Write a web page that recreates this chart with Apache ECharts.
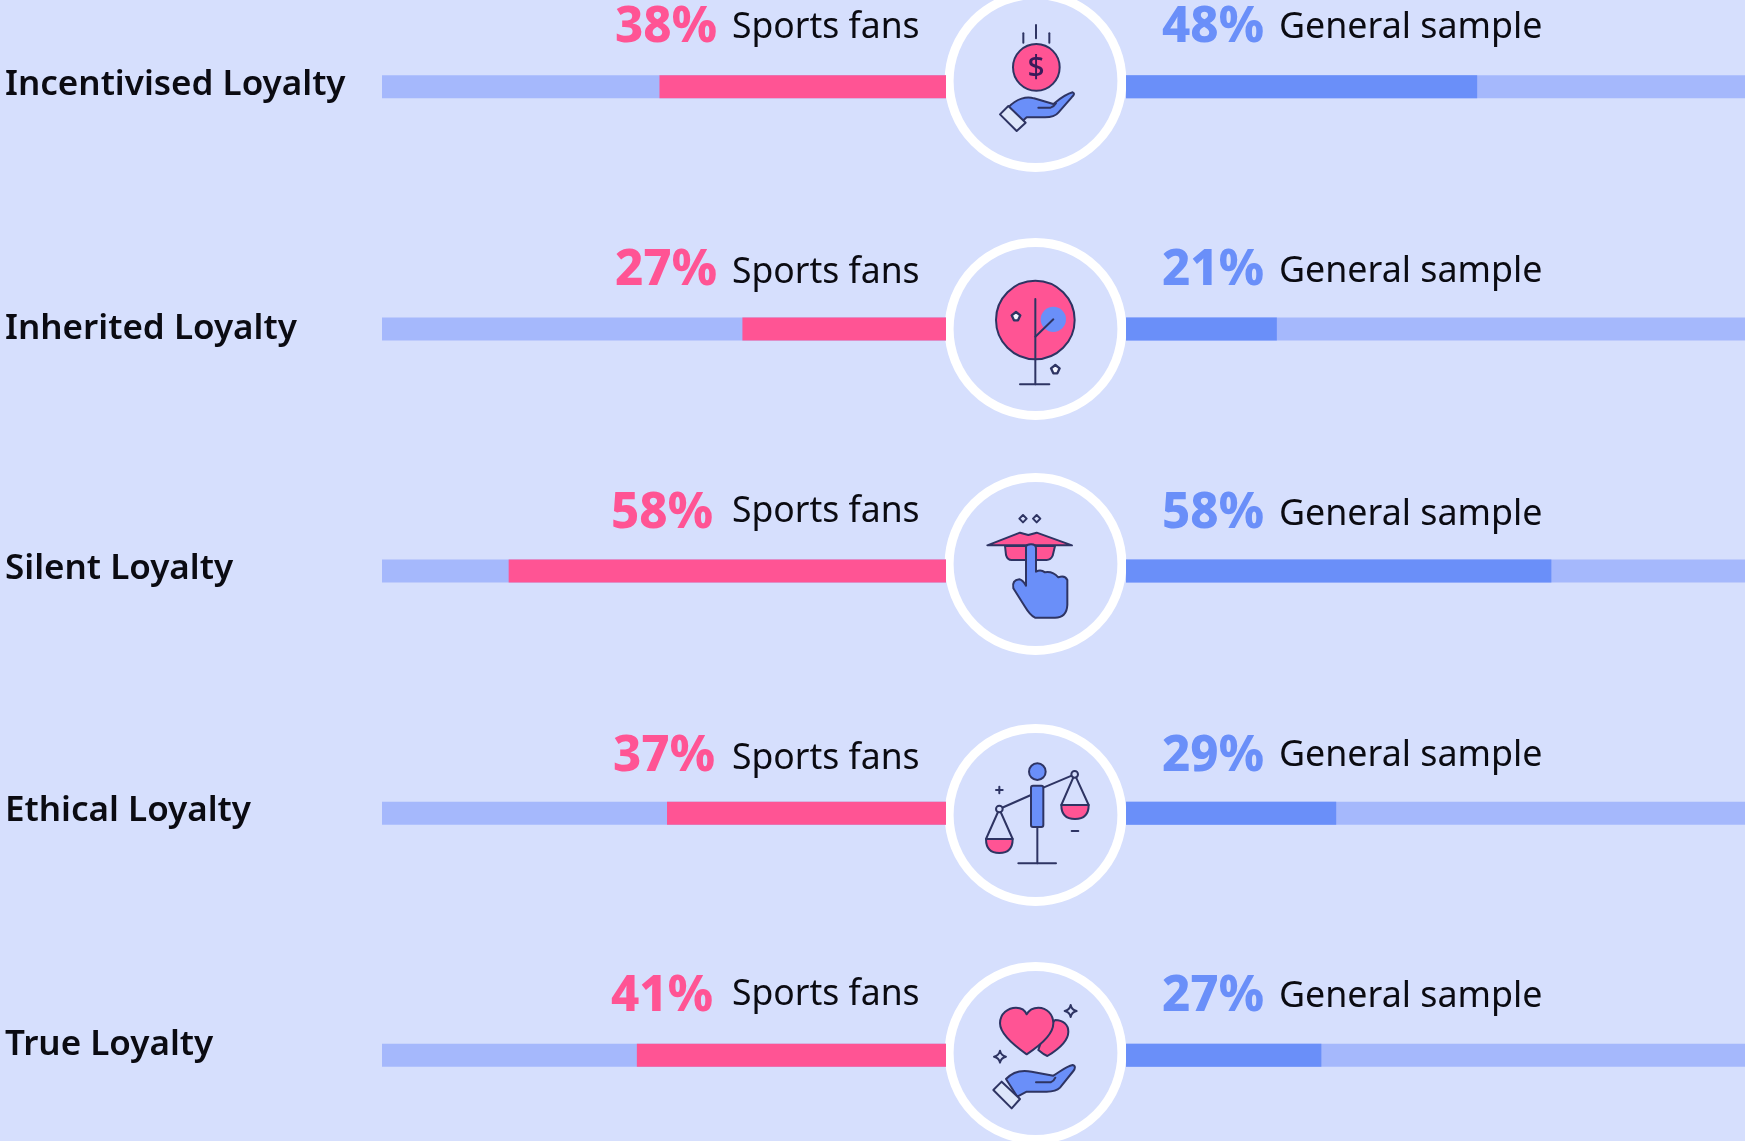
<!DOCTYPE html>
<html><head><meta charset="utf-8">
<style>html,body{margin:0;padding:0;background:#d6dffd}#c{width:1745px;height:1141px}</style>
<script src="https://cdn.jsdelivr.net/npm/echarts@6/dist/echarts.min.js"></script></head>
<body><div id="c"></div>
<script>
const categories = ['Incentivised Loyalty','Inherited Loyalty','Silent Loyalty','Ethical Loyalty','True Loyalty'];
const sportsFans = [38,27,58,37,41];
const generalSample = [48,21,58,29,27];
const leftLegend = 'Sports fans', rightLegend = 'General sample';

// layout (text and icon placement only)
const nameY = [85,329,569,811,1045];
const leftPctX = [615,615,611,613,611];
const leftPctY = [28,271,514,757,997];
const leftLegY = [28,273,512,759,995];
const rightPctY = [28,271,514,757,997];
const rightLegY = [28,272,515,756,997];
const circleY = [81,329,564,815,1053];
const iconOrigin = [0,230,465,715,955];

const BG='#d6dffd', TRACK='#a5b8fc', PINK='#ff5494', BLUE='#6a8ff9', INK='#2e3463', NAVY='#0b0b12', CUFF='#dde6fa';
const FONT='"Noto Sans"';

function txt(x,y,s,size,weight,fill){return {type:'text',x,y,style:{text:s,fontFamily:FONT,fontSize:size,fontWeight:weight,fill,textAlign:'left',textVerticalAlign:'middle'}};}
const st=(fill,lw)=>({fill:fill||'none',stroke:INK,lineWidth:lw||6,lineJoin:'round',lineCap:'round'});
let shapeId=0;
function path(d,fill,lw){const name='iconShape'+(shapeId++);echarts.graphic.registerShape(name,echarts.graphic.extendPath(d));return {type:name,style:st(fill,lw)};}
function circ(cx,cy,r,fill,lw){return {type:'circle',shape:{cx,cy,r},style:st(fill,lw)};}
function line(x1,y1,x2,y2,lw){return {type:'line',shape:{x1,y1,x2,y2},style:st(null,lw)};}
function star(x,y,r){return path(`M${x} ${y-r}Q${x+3} ${y-3} ${x+r} ${y}Q${x+3} ${y+3} ${x} ${y+r}Q${x-3} ${y+3} ${x-r} ${y}Q${x-3} ${y-3} ${x} ${y-r}Z`,BG,6);}
function penta(x,y,r){return path(`M${x} ${y-r}L${x+r} ${y-3}L${x+6} ${y+r-1}L${x-6} ${y+r-1}L${x-r} ${y-3}Z`,'#f4f6ff',7);}
function diamond(x,y,r){return path(`M${x} ${y-r}L${x+r} ${y}L${x} ${y+r}L${x-r} ${y}Z`,BG,6);}

const icons=[
 [line(280,100,280,128),line(318,75,318,115),line(358,100,358,128),circ(319,202,70,PINK),
  {type:'text',x:318,y:204,style:{text:'$',fontFamily:FONT,fontSize:90,fontWeight:500,fill:'#3a1a5a',textAlign:'center',textVerticalAlign:'middle'}},
  path('M235 322C260 295 290 288 312 295L370 312C385 300 405 283 428 277C436 280 430 288 425 292L385 338C375 350 360 352 345 352L290 352L275 365Z',BLUE),
  path('M210 343L235 318L287 368L260 393Z',CUFF),path('M325 323L362 323Q372 320 378 310',null)],
 [circ(316,270,118,PINK),{type:'circle',shape:{cx:370,cy:268,r:38},style:{fill:BLUE}},line(316,207,316,463),line(270,463,358,463),
  path('M316 320L370 268',null,6),penta(258,259,13),penta(376,418,13)],
 [diamond(279,161,11),diamond(320,161,11),
  path('M225 243L375 243L368 272Q362 285 350 285L245 285Q232 285 228 270Z',PINK),
  path('M172 241L270 203L295 210L320 203L426 241Z',PINK),
  path('M288 245Q290 238 303 238Q318 238 318 250L318 320Q332 312 345 322Q368 318 385 337Q405 330 412 345L412 420Q410 458 375 458L315 458Q300 450 285 425L250 370Q245 345 268 343Q278 345 288 362Z',BLUE)],
 [line(322,336,322,445),line(265,445,378,445),line(208,282,303,240),line(340,218,434,178),
  circ(322,170,25,BLUE),{type:'rect',shape:{x:303,y:212,width:37,height:124,r:6},style:st(BLUE)},
  path('M168 372L208 282L248 372',null),path('M394 270L434 178L476 270',null),
  path('M168 372L248 372Q248 414 208 414Q168 414 168 372Z',PINK),
  path('M394 270L476 270Q476 312 435 312Q394 312 394 270Z',PINK),
  circ(208,282,10,BG),circ(434,178,10,BG),
  line(198,225,218,225),line(208,215,208,235),line(425,348,445,348)],
 [path('M352 303C390 280 415 255 415 230C415 210 400 195 375 195L340 240L325 285Q340 298 352 303Z',PINK),
  path('M290 298C250 270 210 235 210 205C210 175 235 158 258 158C272 158 285 165 290 178C297 165 312 158 325 158C350 158 370 178 370 205C370 240 330 272 290 298Z',PINK),
  star(422,168,18),star(210,305,18),
  path('M228 372C250 348 280 345 305 350L370 362C390 350 410 333 428 330C438 332 435 342 430 348L390 398C380 408 365 410 350 410L290 410L262 425Z',BLUE),
  path('M190 405L215 380L270 432L245 460Z',CUFF),path('M318 382L362 382Q372 378 376 368',null)]
];

const graphics=[];
categories.forEach((c,i)=>{
  graphics.push({type:'circle',shape:{cx:1035.5,cy:circleY[i],r:86.4},style:{fill:BG,stroke:'#ffffff',lineWidth:9}});
  graphics.push({type:'group',x:930,y:iconOrigin[i],scaleX:1/3,scaleY:1/3,children:icons[i]});
  graphics.push(txt(5,nameY[i],c,35,600,NAVY));
  graphics.push(txt(leftPctX[i],leftPctY[i],sportsFans[i]+'%',49,800,PINK));
  graphics.push(txt(732,leftLegY[i],leftLegend,35.5,400,NAVY));
  graphics.push(txt(1162,rightPctY[i],generalSample[i]+'%',49,800,BLUE));
  graphics.push(txt(1279,rightLegY[i],rightLegend,35.8,400,NAVY));
});

const chart=echarts.init(document.getElementById('c'),null,{renderer:'canvas'});
const hiddenCat=g=>({type:'category',gridIndex:g,data:categories,inverse:true,show:false});
const hiddenVal=(g,min,max,inv)=>({type:'value',gridIndex:g,min,max,inverse:inv,show:false,splitLine:{show:false}});
chart.setOption({
  animation:false,
  backgroundColor:BG,
  grid:[{left:382,width:564,top:-34.2,height:1210.5,outerBoundsMode:'none'},{left:1126,width:619,top:-34.2,height:1210.5,outerBoundsMode:'none'}],
  xAxis:[hiddenVal(0,0,74.8,true),hiddenVal(1,0.67,84.1,false)],
  yAxis:[hiddenCat(0),hiddenCat(1)],
  series:[
    {name:leftLegend,type:'bar',xAxisIndex:0,yAxisIndex:0,data:sportsFans,barWidth:23,itemStyle:{color:PINK},showBackground:true,backgroundStyle:{color:TRACK}},
    {name:rightLegend,type:'bar',xAxisIndex:1,yAxisIndex:1,data:generalSample,barWidth:23,itemStyle:{color:BLUE},showBackground:true,backgroundStyle:{color:TRACK}}
  ],
  graphic:{elements:graphics}
});
</script></body></html>
